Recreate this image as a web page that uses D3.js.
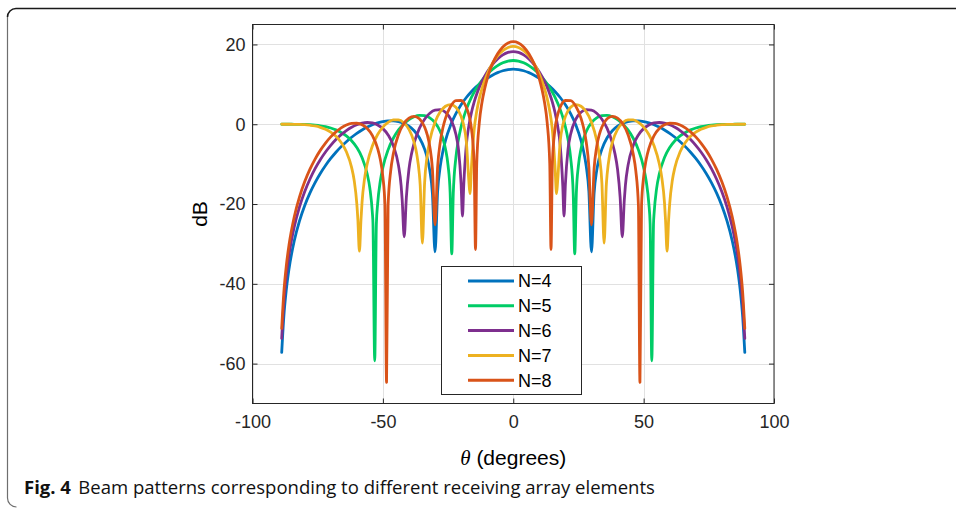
<!DOCTYPE html>
<html><head><meta charset="utf-8">
<script src="https://cdn.jsdelivr.net/npm/d3@7"></script>
<style>body{margin:0;background:#fff;} svg{display:block;}</style>
</head><body>
<svg id="chart" width="956" height="508"></svg>
<script>
// ---------- data ----------
const seriesNames = ["N=4", "N=5", "N=6", "N=7", "N=8"];
const xTicks = [-100, -50, 0, 50, 100];
const yTicks = [-60, -40, -20, 0, 20];

// [theta (degrees), dB]
const n4 = [[-88.8,-57.2],[-88,-48.33],[-87,-41.3],[-86,-36.29],[-84,-29.26],[-82,-24.28],[-80,-20.42],[-78,-17.27],[-76,-14.62],[-74,-12.33],[-72,-10.34],[-70,-8.58],[-68,-7.01],[-66,-5.61],[-64,-4.37],[-62,-3.26],[-60,-2.28],[-58,-1.44],[-56,-0.71],[-54,-0.12],[-52,0.35],[-50,0.68],[-48,0.85],[-46,0.86],[-44,0.67],[-42,0.24],[-40,-0.49],[-38,-1.63],[-36,-3.39],[-34,-6.24],[-33,-8.41],[-32,-11.63],[-31,-17.35],[-30,-32],[-29,-16.8],[-28,-10.56],[-27,-6.83],[-26,-4.1],[-24,-0.18],[-22,2.65],[-20,4.88],[-18,6.7],[-16,8.22],[-14,9.5],[-12,10.59],[-10,11.51],[-8,12.29],[-6,12.93],[-4,13.4],[-2,13.7],
[0,13.8],
[2,13.7],[4,13.4],[6,12.93],[8,12.29],[10,11.51],[12,10.59],[14,9.5],[16,8.22],[18,6.7],[20,4.88],[22,2.65],[24,-0.18],[26,-4.1],[27,-6.83],[28,-10.56],[29,-16.8],[30,-32],[31,-17.35],[32,-11.63],[33,-8.41],[34,-6.24],[36,-3.39],[38,-1.63],[40,-0.49],[42,0.24],[44,0.67],[46,0.86],[48,0.85],[50,0.68],[52,0.35],[54,-0.12],[56,-0.71],[58,-1.44],[60,-2.28],[62,-3.26],[64,-4.37],[66,-5.61],[68,-7.01],[70,-8.58],[72,-10.34],[74,-12.33],[76,-14.62],[78,-17.27],[80,-20.42],[82,-24.28],[84,-29.26],[86,-36.29],[87,-41.3],[88,-48.33],[88.8,-57.2]];

const n5 = [[-88.8,0],[-86,0],[-84,-0.01],[-82,-0.02],[-80,-0.06],[-78,-0.12],[-76,-0.23],[-74,-0.39],[-72,-0.62],[-70,-0.95],[-68,-1.41],[-66,-2.05],[-64,-2.92],[-62,-4.13],[-60,-5.82],[-58,-8.33],[-56,-12.5],[-55,-16],[-54,-22.5],[-53.8,-24.8],[-53.13,-59.3],[-52.5,-25.1],[-52,-19.9],[-51,-14.3],[-50,-10.85],[-48,-6.42],[-46,-3.51],[-44,-1.43],[-42,0.09],[-40,1.18],[-38,1.88],[-36,2.21],[-34,2.14],[-32,1.59],[-30,0.4],[-28,-1.81],[-27,-3.57],[-26,-6.13],[-25,-10.34],[-24.2,-17.2],[-23.58,-32.5],[-23,-17.4],[-22,-8.35],[-21,-3.77],[-20,-0.64],[-19,1.77],[-18,3.73],[-16,6.81],[-14,9.16],[-12,11.02],[-10,12.53],[-8,13.74],[-6,14.7],[-4,15.4],[-2,15.84],
[0,15.98],
[2,15.84],[4,15.4],[6,14.7],[8,13.74],[10,12.53],[12,11.02],[14,9.16],[16,6.81],[18,3.73],[19,1.77],[20,-0.64],[21,-3.77],[22,-8.35],[23,-17.4],[23.58,-32.5],[24.2,-17.2],[25,-10.34],[26,-6.13],[27,-3.57],[28,-1.81],[30,0.4],[32,1.59],[34,2.14],[36,2.21],[38,1.88],[40,1.18],[42,0.09],[44,-1.43],[46,-3.51],[48,-6.42],[50,-10.85],[51,-14.3],[52,-19.9],[52.5,-25.1],[53.13,-59.3],[53.8,-24.8],[54,-22.5],[55,-16],[56,-12.5],[58,-8.33],[60,-5.82],[62,-4.13],[64,-2.92],[66,-2.05],[68,-1.41],[70,-0.95],[72,-0.62],[74,-0.39],[76,-0.23],[78,-0.12],[80,-0.06],[82,-0.02],[84,-0.01],[86,0],[88.8,0]];

const n6 = [[-88.8,-53.69],[-88,-44.82],[-87,-37.78],[-86,-32.77],[-84,-25.74],[-82,-20.76],[-80,-16.92],[-78,-13.79],[-76,-11.13],[-74,-8.89],[-72,-6.96],[-70,-5.29],[-68,-3.84],[-66,-2.61],[-64,-1.58],[-62,-0.75],[-60,-0.12],[-58,0.29],[-56,0.44],[-54,0.32],[-52,-0.17],[-50,-1.1],[-48,-2.68],[-46,-5.35],[-44,-10.38],[-43,-15.4],[-42.6,-18.9],[-41.81,-28.2],[-41,-18.4],[-40,-11.28],[-39,-7.37],[-38,-4.67],[-36,-1.04],[-34,1.27],[-32,2.75],[-30,3.54],[-28,3.66],[-26,3.01],[-24,1.3],[-22,-2.52],[-21,-6.32],[-20,-15],[-19.47,-23],[-19,-15.5],[-18,-5.22],[-17,-0.32],[-16,3.01],[-15,5.53],[-14,7.57],[-13,9.28],[-12,10.73],[-10,13.11],[-8,14.96],[-6,16.37],[-4,17.38],[-2,18],
[0,18.2],
[2,18],[4,17.38],[6,16.37],[8,14.96],[10,13.11],[12,10.73],[13,9.28],[14,7.57],[15,5.53],[16,3.01],[17,-0.32],[18,-5.22],[19,-15.5],[19.47,-23],[20,-15],[21,-6.32],[22,-2.52],[24,1.3],[26,3.01],[28,3.66],[30,3.54],[32,2.75],[34,1.27],[36,-1.04],[38,-4.67],[39,-7.37],[40,-11.28],[41,-18.4],[41.81,-28.2],[42.6,-18.9],[43,-15.4],[44,-10.38],[46,-5.35],[48,-2.68],[50,-1.1],[52,-0.17],[54,0.32],[56,0.44],[58,0.29],[60,-0.12],[62,-0.75],[64,-1.58],[66,-2.61],[68,-3.84],[70,-5.29],[72,-6.96],[74,-8.89],[76,-11.13],[78,-13.79],[80,-16.92],[82,-20.76],[84,-25.74],[86,-32.77],[87,-37.78],[88,-44.82],[88.8,-53.69]];

const n7 = [[-88.8,0],[-86,0],[-84,-0.02],[-82,-0.05],[-80,-0.12],[-78,-0.25],[-76,-0.44],[-74,-0.77],[-72,-1.26],[-70,-1.98],[-68,-3.03],[-66,-4.57],[-64,-6.9],[-62,-10.82],[-61,-14.1],[-60,-19.92],[-59.6,-23.8],[-59,-31.8],[-58.4,-24],[-58,-19.65],[-57,-13.5],[-56,-9.89],[-54,-5.4],[-52,-2.58],[-50,-0.71],[-48,0.48],[-46,1.08],[-44,1.09],[-42,0.38],[-40,-1.27],[-38,-4.58],[-37,-7.5],[-36,-12.6],[-35.7,-15.15],[-34.85,-29.8],[-34,-14.76],[-33,-7.86],[-32,-4.03],[-30,0.52],[-28,3.11],[-26,4.51],[-24,4.94],[-22,4.26],[-20,1.97],[-19,-0.29],[-18,-4.29],[-17,-14.5],[-16.6,-17.4],[-16,-10.41],[-15,-1.4],[-14,3.26],[-13,6.48],[-12,8.94],[-10,12.6],[-8,15.22],[-6,17.12],[-4,18.44],[-2,19.24],
[0,19.5],
[2,19.24],[4,18.44],[6,17.12],[8,15.22],[10,12.6],[12,8.94],[13,6.48],[14,3.26],[15,-1.4],[16,-10.41],[16.6,-17.4],[17,-14.5],[18,-4.29],[19,-0.29],[20,1.97],[22,4.26],[24,4.94],[26,4.51],[28,3.11],[30,0.52],[32,-4.03],[33,-7.86],[34,-14.76],[34.85,-29.8],[35.7,-15.15],[36,-12.6],[37,-7.5],[38,-4.58],[40,-1.27],[42,0.38],[44,1.09],[46,1.08],[48,0.48],[50,-0.71],[52,-2.58],[54,-5.4],[56,-9.89],[57,-13.5],[58,-19.65],[58.4,-24],[59,-31.8],[59.6,-23.8],[60,-19.92],[61,-14.1],[62,-10.82],[64,-6.9],[66,-4.57],[68,-3.03],[70,-1.98],[72,-1.26],[74,-0.77],[76,-0.44],[78,-0.25],[80,-0.12],[82,-0.05],[84,-0.02],[86,0],[88.8,0]];

const n8 = [[-88.8,-51.19],[-88,-42.32],[-87,-35.28],[-86,-30.27],[-84,-23.25],[-82,-18.27],[-80,-14.44],[-78,-11.33],[-76,-8.73],[-74,-6.55],[-72,-4.71],[-70,-3.16],[-68,-1.9],[-66,-0.91],[-64,-0.2],[-62,0.2],[-60,0.25],[-58,-0.14],[-56,-1.09],[-54,-2.86],[-52,-6.1],[-51,-8.8],[-50,-13.19],[-49.2,-20.3],[-48.59,-64.7],[-48,-20.38],[-47,-11.68],[-46,-7.41],[-44,-2.57],[-42,0.1],[-40,1.53],[-38,1.97],[-36,1.36],[-34,-0.69],[-33,-2.6],[-32,-5.61],[-31,-11.2],[-30,-25.2],[-29,-10.67],[-28,-4.51],[-27,-0.96],[-26,1.46],[-24,4.49],[-22,5.9],[-20,5.95],[-18,4.24],[-17,2.28],[-16,-1.26],[-15,-9.78],[-14.48,-31.4],[-14,-9.92],[-13,0.47],[-12,5.46],[-11,8.81],[-10,11.4],[-9,13.44],[-8,15.12],[-6,17.66],[-4,19.37],[-2,20.38],
[0,20.7],
[2,20.38],[4,19.37],[6,17.66],[8,15.12],[9,13.44],[10,11.4],[11,8.81],[12,5.46],[13,0.47],[14,-9.92],[14.48,-31.4],[15,-9.78],[16,-1.26],[17,2.28],[18,4.24],[20,5.95],[22,5.9],[24,4.49],[26,1.46],[27,-0.96],[28,-4.51],[29,-10.67],[30,-25.2],[31,-11.2],[32,-5.61],[33,-2.6],[34,-0.69],[36,1.36],[38,1.97],[40,1.53],[42,0.1],[44,-2.57],[46,-7.41],[47,-11.68],[48,-20.38],[48.59,-64.7],[49.2,-20.3],[50,-13.19],[51,-8.8],[52,-6.1],[54,-2.86],[56,-1.09],[58,-0.14],[60,0.25],[62,0.2],[64,-0.2],[66,-0.91],[68,-1.9],[70,-3.16],[72,-4.71],[74,-6.55],[76,-8.73],[78,-11.33],[80,-14.44],[82,-18.27],[84,-23.25],[86,-30.27],[87,-35.28],[88,-42.32],[88.8,-51.19]];

const seriesData = [n4, n5, n6, n7, n8];
const seriesColors = ["#0072BD", "#00CC66", "#7E2F8E", "#EDB120", "#D95319"];

// ---------- drawing ----------
const svg = d3.select("#chart");
const W = 956, H = 508;
const m = {left: 252.5, right: 774, top: 24.5, bottom: 403.5};
const x = d3.scaleLinear().domain([-100, 100]).range([m.left, m.right]);
const y = d3.scaleLinear().domain([-70, 25]).range([m.bottom, m.top]);
const axisFont = "'Liberation Sans', Arial, Helvetica, sans-serif";
const axisColor = "#262626";
const plainNum = d => String(d);   // hyphen-minus like the original

svg.append("rect").attr("width", W).attr("height", H).attr("fill", "#fff");

// outer figure frame
svg.append("path")
  .attr("d", "M956,8.5 L16,8.5 A8.5,8.5 0 0 0 7.5,17")
  .attr("fill", "none").attr("stroke", "#1a1a1a").attr("stroke-width", 1.6);
svg.append("path")
  .attr("d", "M7.5,17 L7.5,498 A9,9 0 0 0 16.5,507")
  .attr("fill", "none").attr("stroke", "#6e6e6e").attr("stroke-width", 1.2);

// grid
const grid = svg.append("g");
grid.selectAll("line.gx").data(xTicks).join("line")
  .attr("x1", d => Math.round(x(d)) + 0.5).attr("x2", d => Math.round(x(d)) + 0.5)
  .attr("y1", m.top).attr("y2", m.bottom)
  .attr("stroke", "#e1e1e1").attr("stroke-width", 1);
grid.selectAll("line.gy").data(yTicks).join("line")
  .attr("y1", d => Math.round(y(d)) + 0.5).attr("y2", d => Math.round(y(d)) + 0.5)
  .attr("x1", m.left).attr("x2", m.right)
  .attr("stroke", "#e1e1e1").attr("stroke-width", 1);

// axes with inward ticks
function styleAxis(g) {
  g.select(".domain").remove();
  g.selectAll(".tick line").attr("stroke", axisColor);
  g.selectAll("text").attr("font-family", axisFont).attr("font-size", 18).attr("fill", axisColor);
}
svg.append("g").attr("transform", `translate(0,${m.bottom})`)
  .call(d3.axisBottom(x).tickValues(xTicks).tickFormat(plainNum).tickSize(-5).tickPadding(12)).call(styleAxis);
svg.append("g").attr("transform", `translate(0,${m.top})`)
  .call(d3.axisTop(x).tickValues(xTicks).tickSize(-5).tickFormat("")).call(styleAxis);
svg.append("g").attr("transform", `translate(${m.left},0)`)
  .call(d3.axisLeft(y).tickValues(yTicks).tickFormat(plainNum).tickSize(-5).tickPadding(7)).call(styleAxis);
svg.append("g").attr("transform", `translate(${m.right},0)`)
  .call(d3.axisRight(y).tickValues(yTicks).tickSize(-5).tickFormat("")).call(styleAxis);

// axis box
svg.append("rect")
  .attr("x", m.left).attr("y", m.top)
  .attr("width", m.right - m.left).attr("height", m.bottom - m.top)
  .attr("fill", "none").attr("stroke", axisColor).attr("stroke-width", 1);

// curves
const line = d3.line().x(d => x(d[0])).y(d => y(d[1])).curve(d3.curveMonotoneX);
svg.append("g").selectAll("path").data(seriesData).join("path")
  .attr("d", line)
  .attr("fill", "none")
  .attr("stroke", (d, i) => seriesColors[i])
  .attr("stroke-width", 2.8)
  .attr("stroke-linejoin", "round")
  .attr("stroke-linecap", "round");

// legend
const lg = svg.append("g");
lg.append("rect").attr("x", 441.5).attr("y", 266.5).attr("width", 140).attr("height", 128)
  .attr("fill", "#fff").attr("stroke", axisColor).attr("stroke-width", 1);
const rows = lg.selectAll("g.row").data(seriesNames).join("g")
  .attr("transform", (d, i) => `translate(0,${281 + i * 24.8})`);
rows.append("line").attr("x1", 468).attr("x2", 514).attr("y1", 0).attr("y2", 0)
  .attr("stroke", (d, i) => seriesColors[i]).attr("stroke-width", 3);
rows.append("text").attr("x", 518).attr("y", 0).attr("dy", "0.35em")
  .attr("font-family", axisFont).attr("font-size", 18).attr("fill", "#000")
  .text(d => d);

// axis labels
svg.append("text")
  .attr("transform", `translate(207,${(m.top + m.bottom) / 2}) rotate(-90)`)
  .attr("text-anchor", "middle")
  .attr("font-family", axisFont).attr("font-size", 21).attr("fill", "#000")
  .text("dB");
const xl = svg.append("text").attr("x", (m.left + m.right) / 2).attr("y", 465)
  .attr("text-anchor", "middle").attr("font-family", axisFont).attr("font-size", 21).attr("fill", "#000");
xl.append("tspan").attr("font-family", "'Liberation Serif', 'DejaVu Serif', serif").attr("font-style", "italic").text("θ");
xl.append("tspan").text(" (degrees)");

// caption (sized so it spans the same width as the original)
const cap = svg.append("text").attr("x", 24).attr("y", 494)
  .attr("font-family", "'Open Sans', 'Noto Sans', sans-serif").attr("font-size", 15).attr("fill", "#111");
cap.append("tspan").attr("font-weight", "bold").text("Fig. 4");
const capRest = cap.append("tspan").attr("dx", 6).text("Beam patterns corresponding to different receiving array elements");
const capW = cap.node().getComputedTextLength();
const capSize = 15 * 624 / capW;
cap.attr("font-size", capSize.toFixed(2));
capRest.attr("dx", (6 * capSize / 15).toFixed(1));
</script>
</body></html>
